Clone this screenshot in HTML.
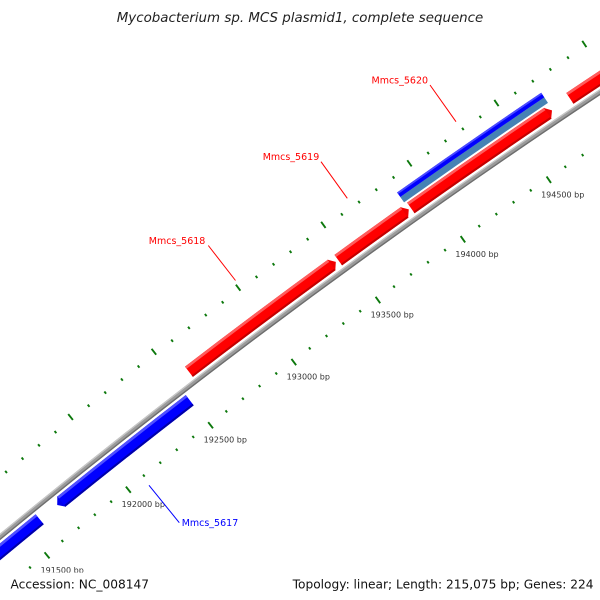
<!DOCTYPE html>
<html>
<head>
<meta charset="utf-8">
<style>
html,body{margin:0;padding:0;background:#fff;width:600px;height:600px;overflow:hidden;}
svg{display:block;overflow:hidden;}
</style>
</head>
<body>
<svg width="600" height="600" viewBox="0 0 600 600" xmlns="http://www.w3.org/2000/svg">
<rect x="0" y="0" width="600" height="600" fill="#ffffff"/>
<defs>
  <line id="os" x1="7243" y1="0" x2="7245.8" y2="0"/>
  <line id="ol" x1="7243" y1="0" x2="7250.5" y2="0"/>
  <line id="is" x1="7154" y1="0" x2="7156.6" y2="0"/>
  <line id="il" x1="7150" y1="0" x2="7157.8" y2="0"/>
</defs>
<g transform="translate(4581 6089)">
  <!-- backbone -->
  <g fill="none" transform="rotate(-130)">
    <path d="M7198 0 A7198 7198 0 0 1 7136.42 939.52" stroke="#9a9a9a" stroke-width="5"/>
    <path d="M7199.9 0 A7199.9 7199.9 0 0 1 7138.30 939.77" stroke="#c6c6c6" stroke-width="1.4"/>
    <path d="M7196.1 0 A7196.1 7196.1 0 0 1 7134.53 939.27" stroke="#6e6e6e" stroke-width="1.4"/>
  </g>

  <!-- reverse strand features (blue) -->
  <!-- Mmcs_5616 -->
  <g fill="none" transform="rotate(-130)">
    <path d="M7186.5 0 A7186.5 7186.5 0 0 1 7185.786 101.34" stroke="#0000ff" stroke-width="13"/>
    <path d="M7191.6 0 A7191.6 7191.6 0 0 1 7190.885 101.41" stroke="#5050ff" stroke-width="2.6"/>
    <path d="M7181 0 A7181 7181 0 0 1 7180.286 101.26" stroke="#0000a8" stroke-width="2"/>
  </g>
  <!-- Mmcs_5617 -->
  <g fill="none" transform="rotate(-128.972)">
    <path d="M7186.5 0 A7186.5 7186.5 0 0 1 7184.630 163.92" stroke="#0000ff" stroke-width="13"/>
    <path d="M7191.6 0 A7191.6 7191.6 0 0 1 7189.729 164.03" stroke="#5050ff" stroke-width="2.6"/>
    <path d="M7181 0 A7181 7181 0 0 1 7179.132 163.79" stroke="#0000a8" stroke-width="2"/>
  </g>
  <polygon points="7193,5.4 7180,5.4 7186.5,0" fill="#0000ee" transform="rotate(-129.012)"/>

  <!-- forward strand features (red) -->
  <!-- Mmcs_5618 -->
  <g fill="none" transform="rotate(-127.532)">
    <path d="M7209.5 0 A7209.5 7209.5 0 0 1 7207.292 178.41" stroke="#ff0000" stroke-width="13"/>
    <path d="M7214.6 0 A7214.6 7214.6 0 0 1 7212.390 178.54" stroke="#ff5c5c" stroke-width="2.6"/>
    <path d="M7204 0 A7204 7204 0 0 1 7201.794 178.27" stroke="#c20000" stroke-width="2"/>
  </g>
  <!-- Mmcs_5619 -->
  <g fill="none" transform="rotate(-126.05)">
    <path d="M7209.5 0 A7209.5 7209.5 0 0 1 7209.036 81.79" stroke="#ff0000" stroke-width="13"/>
    <path d="M7214.6 0 A7214.6 7214.6 0 0 1 7214.136 81.85" stroke="#ff5c5c" stroke-width="2.6"/>
    <path d="M7204 0 A7204 7204 0 0 1 7203.536 81.73" stroke="#c20000" stroke-width="2"/>
  </g>
  <!-- Mmcs_5620 -->
  <g fill="none" transform="rotate(-125.34)">
    <path d="M7209.5 0 A7209.5 7209.5 0 0 1 7207.575 166.58" stroke="#ff0000" stroke-width="13"/>
    <path d="M7214.6 0 A7214.6 7214.6 0 0 1 7212.674 166.70" stroke="#ff5c5c" stroke-width="2.6"/>
    <path d="M7204 0 A7204 7204 0 0 1 7202.077 166.45" stroke="#c20000" stroke-width="2"/>
  </g>
  <!-- Mmcs_5621 -->
  <g fill="none" transform="rotate(-123.805)">
    <path d="M7209.5 0 A7209.5 7209.5 0 0 1 7208.391 126.45" stroke="#ff0000" stroke-width="13"/>
    <path d="M7214.6 0 A7214.6 7214.6 0 0 1 7213.490 126.54" stroke="#ff5c5c" stroke-width="2.6"/>
    <path d="M7204 0 A7204 7204 0 0 1 7202.892 126.36" stroke="#c20000" stroke-width="2"/>
  </g>
  <g fill="#f00000">
    <polygon points="7216,-5.4 7203,-5.4 7209.5,0" transform="rotate(-126.074)"/>
    <polygon points="7216,-5.4 7203,-5.4 7209.5,0" transform="rotate(-125.36)"/>
    <polygon points="7216,-5.4 7203,-5.4 7209.5,0" transform="rotate(-123.976)"/>
  </g>

  <!-- outer slot blue / steelblue -->
  <g fill="none" transform="rotate(-125.358)">
    <path d="M7221.3 0 A7221.3 7221.3 0 0 1 7219.178 175.05" stroke="#4682b4" stroke-width="6.6"/>
    <path d="M7227.3 0 A7227.3 7227.3 0 0 1 7225.176 175.20" stroke="#0000ff" stroke-width="5.6"/>
    <path d="M7229.2 0 A7229.2 7229.2 0 0 1 7227.076 175.24" stroke="#4a4aff" stroke-width="1.8"/>
  </g>

  <!-- ticks -->
  <g stroke="#0c780c" stroke-width="1.9">
    <!-- outer long -->
    <use href="#ol" transform="rotate(-128.4923)"/>
    <use href="#ol" transform="rotate(-127.6554)"/>
    <use href="#ol" transform="rotate(-126.8185)"/>
    <use href="#ol" transform="rotate(-125.9815)"/>
    <use href="#ol" transform="rotate(-125.1446)"/>
    <use href="#ol" transform="rotate(-124.3077)"/>
    <use href="#ol" transform="rotate(-123.4708)"/>
    <!-- inner long -->
    <use href="#il" transform="rotate(-129.3292)"/>
    <use href="#il" transform="rotate(-128.4923)"/>
    <use href="#il" transform="rotate(-127.6554)"/>
    <use href="#il" transform="rotate(-126.8185)"/>
    <use href="#il" transform="rotate(-125.9815)"/>
    <use href="#il" transform="rotate(-125.1446)"/>
    <use href="#il" transform="rotate(-124.3077)"/>
    <!-- outer short -->
    <use href="#os" transform="rotate(-129.1618)"/>
    <use href="#os" transform="rotate(-128.9944)"/>
    <use href="#os" transform="rotate(-128.8271)"/>
    <use href="#os" transform="rotate(-128.6597)"/>
    <use href="#os" transform="rotate(-128.3249)"/>
    <use href="#os" transform="rotate(-128.1575)"/>
    <use href="#os" transform="rotate(-127.9901)"/>
    <use href="#os" transform="rotate(-127.8228)"/>
    <use href="#os" transform="rotate(-127.4880)"/>
    <use href="#os" transform="rotate(-127.3206)"/>
    <use href="#os" transform="rotate(-127.1532)"/>
    <use href="#os" transform="rotate(-126.9858)"/>
    <use href="#os" transform="rotate(-126.6511)"/>
    <use href="#os" transform="rotate(-126.4837)"/>
    <use href="#os" transform="rotate(-126.3163)"/>
    <use href="#os" transform="rotate(-126.1489)"/>
    <use href="#os" transform="rotate(-125.8142)"/>
    <use href="#os" transform="rotate(-125.6468)"/>
    <use href="#os" transform="rotate(-125.4794)"/>
    <use href="#os" transform="rotate(-125.3120)"/>
    <use href="#os" transform="rotate(-124.9772)"/>
    <use href="#os" transform="rotate(-124.8099)"/>
    <use href="#os" transform="rotate(-124.6425)"/>
    <use href="#os" transform="rotate(-124.4751)"/>
    <use href="#os" transform="rotate(-124.1403)"/>
    <use href="#os" transform="rotate(-123.9729)"/>
    <use href="#os" transform="rotate(-123.8056)"/>
    <use href="#os" transform="rotate(-123.6382)"/>
    <!-- inner short -->
    <use href="#is" transform="rotate(-129.6640)"/>
    <use href="#is" transform="rotate(-129.4966)"/>
    <use href="#is" transform="rotate(-129.1618)"/>
    <use href="#is" transform="rotate(-128.9944)"/>
    <use href="#is" transform="rotate(-128.8271)"/>
    <use href="#is" transform="rotate(-128.6597)"/>
    <use href="#is" transform="rotate(-128.3249)"/>
    <use href="#is" transform="rotate(-128.1575)"/>
    <use href="#is" transform="rotate(-127.9901)"/>
    <use href="#is" transform="rotate(-127.8228)"/>
    <use href="#is" transform="rotate(-127.4880)"/>
    <use href="#is" transform="rotate(-127.3206)"/>
    <use href="#is" transform="rotate(-127.1532)"/>
    <use href="#is" transform="rotate(-126.9858)"/>
    <use href="#is" transform="rotate(-126.6511)"/>
    <use href="#is" transform="rotate(-126.4837)"/>
    <use href="#is" transform="rotate(-126.3163)"/>
    <use href="#is" transform="rotate(-126.1489)"/>
    <use href="#is" transform="rotate(-125.8142)"/>
    <use href="#is" transform="rotate(-125.6468)"/>
    <use href="#is" transform="rotate(-125.4794)"/>
    <use href="#is" transform="rotate(-125.3120)"/>
    <use href="#is" transform="rotate(-124.9772)"/>
    <use href="#is" transform="rotate(-124.8099)"/>
    <use href="#is" transform="rotate(-124.6425)"/>
    <use href="#is" transform="rotate(-124.4751)"/>
    <use href="#is" transform="rotate(-124.1403)"/>
    <use href="#is" transform="rotate(-123.9729)"/>
  </g>
</g>

<!-- tick labels -->
<g font-family="'DejaVu Sans', 'Liberation Sans', sans-serif" font-size="8" fill="#333333" text-anchor="middle">
  <text x="62.2" y="573.2">191500 bp</text>
  <text x="143.3" y="507.1">192000 bp</text>
  <text x="225.3" y="442.7">192500 bp</text>
  <text x="308.3" y="379.5">193000 bp</text>
  <text x="392.2" y="317.7">193500 bp</text>
  <text x="477.0" y="257.0">194000 bp</text>
  <text x="562.7" y="197.5">194500 bp</text>
</g>

<!-- feature label lines -->
<g stroke-width="1" fill="none">
  <line x1="208.3" y1="245.5" x2="235.5" y2="280.5" stroke="#ff0000"/>
  <line x1="321" y1="161.7" x2="347.3" y2="198.3" stroke="#ff0000"/>
  <line x1="430" y1="85" x2="456" y2="121.7" stroke="#ff0000"/>
  <line x1="149" y1="485.3" x2="179.3" y2="522.7" stroke="#0000ff"/>
</g>
<g font-family="'DejaVu Sans', 'Liberation Sans', sans-serif" font-size="9.5">
  <text x="148.8" y="244" fill="#ff0000">Mmcs_5618</text>
  <text x="262.7" y="160" fill="#ff0000">Mmcs_5619</text>
  <text x="371.5" y="83.5" fill="#ff0000">Mmcs_5620</text>
  <text x="181.7" y="526" fill="#0000ff">Mmcs_5617</text>
</g>

<!-- footer band -->
<rect x="0" y="572.5" width="600" height="27.5" fill="#ffffff"/>

<!-- title -->
<text x="300" y="22" text-anchor="middle" font-family="'DejaVu Sans', 'Liberation Sans', sans-serif" font-style="italic" font-size="13.4" fill="#222222">Mycobacterium sp. MCS plasmid1, complete sequence</text>

<!-- footer -->
<g font-family="'DejaVu Sans', 'Liberation Sans', sans-serif" font-size="12.2" fill="#111111">
  <text x="10.5" y="588.5">Accession: NC_008147</text>
  <text x="593.5" y="588.5" text-anchor="end">Topology: linear; Length: 215,075 bp; Genes: 224</text>
</g>
</svg>
</body>
</html>
